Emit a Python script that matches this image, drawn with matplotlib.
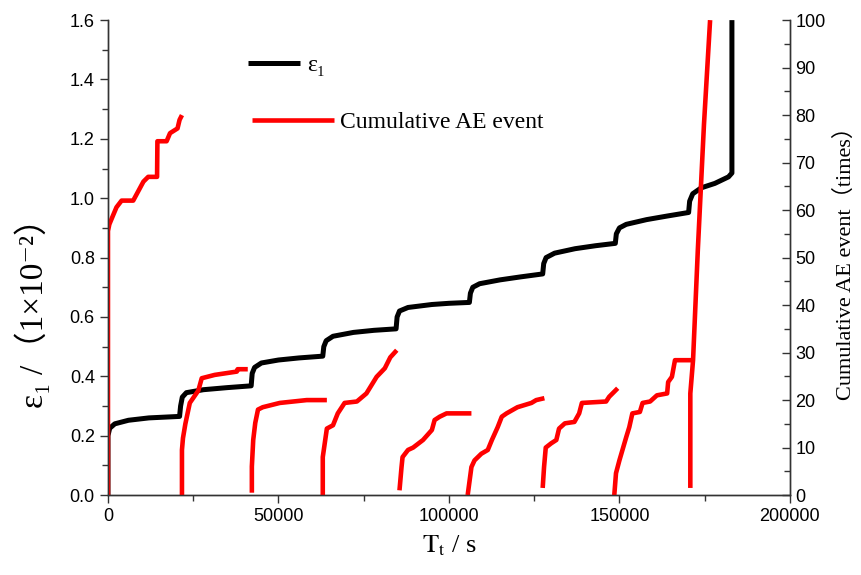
import numpy as np
import matplotlib
matplotlib.use('Agg')
from matplotlib import pyplot as plt
from matplotlib.ticker import MultipleLocator, FormatStrFormatter
from matplotlib.font_manager import FontProperties

plt.rcParams['mathtext.fontset'] = 'stix'

# strain curve (time in s, strain in 1e-2)
strain_t = [0, 0, 500, 2000, 6000, 12000, 21000, 21300, 21800, 23000, 28000, 35000, 42000,
            42300, 43000, 45000, 50000, 56000, 63000, 63300, 64000, 66000, 72000, 78000, 84500,
            84800, 85500, 88000, 95000, 100000, 106000, 106300, 107000, 109000, 115000, 121000,
            127500, 127800, 128500, 131000, 137000, 143000, 148800, 149100, 150000, 152000,
            158000, 164000, 170300, 170600, 171500, 174000, 178000, 182000, 183000, 183000]
strain_v = [0, 0.20, 0.225, 0.24, 0.252, 0.26, 0.265, 0.30, 0.33, 0.345, 0.355, 0.362, 0.368,
            0.41, 0.43, 0.445, 0.455, 0.462, 0.468, 0.50, 0.52, 0.535, 0.548, 0.555, 0.56,
            0.60, 0.62, 0.632, 0.642, 0.646, 0.649, 0.68, 0.70, 0.712, 0.725, 0.735,
            0.745, 0.78, 0.80, 0.815, 0.83, 0.84, 0.848, 0.88, 0.90, 0.912,
            0.928, 0.94, 0.952, 0.99, 1.015, 1.035, 1.05, 1.072, 1.085, 1.6]

# cumulative AE events, one list per loading stage
ae_t1 = [0, 0, 400, 1500, 2500, 4000, 7400, 8900, 10400, 11800, 14400, 14500, 17200, 18200, 20400, 21000, 21700]
ae_v1 = [0, 55.6, 57, 58.9, 60.6, 62, 62, 64, 66, 67, 67, 74.5, 74.5, 76.2, 77.2, 79, 80]
ae_t2 = [21700, 21700, 22000, 22700, 24000, 26500, 27500, 31300, 37800, 38000, 41000]
ae_v2 = [0, 9.5, 12, 15, 19.4, 22, 24.6, 25.3, 26, 26.5, 26.5]
ae_t3 = [42200, 42200, 42600, 43200, 44000, 45400, 50400, 58300, 64200]
ae_v3 = [0.5, 6, 11.6, 15.2, 18, 18.5, 19.4, 20, 20]
ae_t4 = [63000, 63000, 64200, 66000, 67400, 69400, 73000, 75800, 78800, 81200, 82800, 84700]
ae_v4 = [0, 8, 14, 14.7, 17.2, 19.4, 19.7, 21.4, 24.9, 26.7, 29, 30.5]
ae_t5 = [85500, 86100, 86400, 88000, 89500, 92400, 95000, 95800, 97300, 99300, 106600]
ae_v5 = [1, 5.9, 8, 9.5, 10, 11.6, 13.7, 15.8, 16.5, 17.2, 17.2]
ae_t6 = [105500, 106600, 107500, 109500, 111400, 112600, 114300, 115500, 116900, 120100, 124200, 125600, 128000]
ae_v6 = [0, 5.9, 7.3, 8.7, 9.5, 11.6, 14.3, 16.5, 17.2, 18.5, 19.4, 20, 20.4]
ae_t7 = [127500, 127900, 128400, 130000, 131500, 132300, 134000, 136800, 138200, 139000, 146100, 147000, 148400, 149500]
ae_v7 = [1.5, 5.9, 10, 10.9, 11.6, 14, 15.1, 15.4, 17.2, 19.4, 19.7, 20.7, 21.7, 22.5]
ae_t8 = [148500, 149000, 150000, 152000, 152900, 153800, 156000, 156800, 159000, 161000, 164000, 164300, 165400, 166300, 171000]
ae_v8 = [0, 4.6, 7.3, 12.2, 14.3, 17.2, 17.5, 19.4, 19.7, 21, 21.4, 23.8, 24.9, 28.4, 28.4]
ae_t9 = [170800, 170800, 171600, 173000, 174800, 176600]
ae_v9 = [1.5, 21.4, 28.4, 51.6, 78, 100]

ae_stages = [(ae_t1, ae_v1), (ae_t2, ae_v2), (ae_t3, ae_v3), (ae_t4, ae_v4), (ae_t5, ae_v5),
             (ae_t6, ae_v6), (ae_t7, ae_v7), (ae_t8, ae_v8), (ae_t9, ae_v9)]

serif = ['Liberation Serif', 'DejaVu Serif', 'Noto Sans CJK SC']

fig = plt.figure(figsize=(8.61, 5.75), dpi=100)
ax = fig.add_axes([0.1254, 0.139, 0.792, 0.826])
ax2 = ax.twinx()

l1, = ax.plot(strain_t, strain_v, color='black', lw=3.6, solid_capstyle='butt')
for t, v in ae_stages:
    l2, = ax2.plot(t, v, color='red', lw=3.3, solid_capstyle='butt')

ax.set_xlim(0, 200000)
ax.set_ylim(0, 1.6)
ax2.set_ylim(0, 100)
ax.xaxis.set_major_locator(MultipleLocator(50000))
ax.xaxis.set_minor_locator(MultipleLocator(25000))
ax.yaxis.set_major_locator(MultipleLocator(0.2))
ax.yaxis.set_minor_locator(MultipleLocator(0.1))
ax2.yaxis.set_major_locator(MultipleLocator(10))
ax2.yaxis.set_minor_locator(MultipleLocator(5))
ax.yaxis.set_major_formatter(FormatStrFormatter('%.1f'))

for a in (ax, ax2):
    a.spines['top'].set_visible(False)
    for s in a.spines.values():
        s.set_color('#333333')
        s.set_linewidth(1.0)
    a.tick_params(which='both', colors='#333333', width=1.0)
    a.tick_params(which='major', length=6, labelsize=13, labelcolor='black')
    a.tick_params(which='minor', length=4)
ax.tick_params(which='both', direction='out')
ax2.tick_params(which='both', direction='in', pad=4)
for lab in ax.get_xticklabels() + ax.get_yticklabels() + ax2.get_yticklabels():
    lab.set_fontfamily('Liberation Sans')

ax.set_xlabel(r'$\mathrm{T_t}$ / s', fontsize=19, family='Liberation Serif', labelpad=6)
ax.set_ylabel('ε₁ /（1×10⁻²）', fontsize=24, family=serif)
ax.yaxis.set_label_coords(-0.085, 0.40)
ax2.set_ylabel('Cumulative AE event（times）', fontsize=16, family=serif)
ax2.yaxis.set_label_coords(1.066, 0.50)

leg1 = ax2.legend([l1], ['ε₁'], loc='center left', bbox_to_anchor=(0.205, 0.905), frameon=False,
                  borderpad=0, borderaxespad=0, handlelength=2.2, handletextpad=0.3,
                  prop=FontProperties(family=serif, size=17))
ax2.add_artist(leg1)
ax2.legend([l2], ['Cumulative AE event'], loc='center left', bbox_to_anchor=(0.211, 0.785), frameon=False,
           borderpad=0, borderaxespad=0, handlelength=3.5, handletextpad=0.25,
           prop=FontProperties(family=serif, size=17))

fig.savefig('out.png', dpi=100)
